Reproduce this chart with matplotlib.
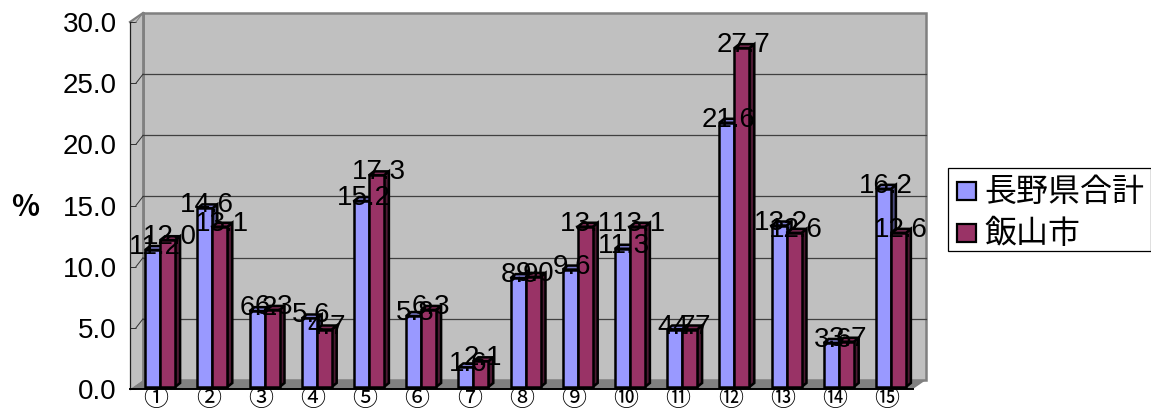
import numpy as np
import matplotlib
matplotlib.use('Agg')
import matplotlib.pyplot as plt
from matplotlib.patches import Polygon, Rectangle

# data
categories = ['①', '②', '③', '④', '⑤', '⑥', '⑦', '⑧', '⑨', '⑩', '⑪', '⑫', '⑬', '⑭', '⑮']
nagano = [11.2, 14.6, 6.2, 5.6, 15.2, 5.8, 1.6, 8.9, 9.6, 11.3, 4.7, 21.6, 13.2, 3.6, 16.2]
iiyama = [12.0, 13.1, 6.3, 4.7, 17.3, 6.3, 2.1, 9.0, 13.1, 13.1, 4.7, 27.7, 12.6, 3.7, 12.6]
series_names = ['長野県合計', '飯山市']
y_ticks = [0, 5, 10, 15, 20, 25, 30]

W, H = 1151, 411
LATIN = 'Liberation Sans'
CJK = 'Noto Sans CJK JP'

fig = plt.figure(figsize=(W / 100, H / 100), dpi=100)
ax = fig.add_axes([130 / W, (H - 389) / H, 783 / W, 367 / H])
ax.set_xlim(0.5, 15.5)
ax.set_ylim(0, 30)
ax.patch.set_visible(False)

# pixels to data units, for the fake 3d depth
px_x = 15 / 783
px_y = 30 / 367
wall_dx, wall_dy = 13 * px_x, 9 * px_y
bar_dx, bar_dy = 4 * px_x, 2 * px_y
side_dx, side_dy = 5 * px_x, 4 * px_y
bar_w = 15 * px_x

# walls and floor
x0, x1 = 0.5, 15.5
ax.add_patch(Polygon([(x0 + wall_dx, wall_dy), (x1 + wall_dx, wall_dy), (x1 + wall_dx, 30 + wall_dy), (x0 + wall_dx, 30 + wall_dy)],
                     fc='#C0C0C0', ec='#808080', lw=1.8, clip_on=False, zorder=1))
ax.add_patch(Polygon([(x0, 0), (x0, 30), (x0 + wall_dx, 30 + wall_dy), (x0 + wall_dx, wall_dy)],
                     fc='#C0C0C0', ec='none', clip_on=False, zorder=1))
ax.plot([x0 + wall_dx, x0 + wall_dx], [wall_dy, 30 + wall_dy], color='#808080', lw=2, clip_on=False, zorder=1.5)
ax.plot([x0, x0 + wall_dx], [30, 30 + wall_dy], color='#808080', lw=1.6, clip_on=False, zorder=1.5)
ax.add_patch(Polygon([(x0, 0), (x1, 0), (x1 + wall_dx, wall_dy), (x0 + wall_dx, wall_dy)],
                     fc='#808080', ec='none', clip_on=False, zorder=2))

# gridlines, on the back wall and slanted on the left wall
for v in y_ticks[1:-1]:
    ax.plot([x0 + wall_dx, x1 + wall_dx], [v + wall_dy, v + wall_dy], color='#404040', lw=0.9, clip_on=False, zorder=2)
for v in y_ticks[1:-1]:
    ax.plot([x0 + 6 * px_x, x0 + wall_dx], [v, v + wall_dy], color='#303030', lw=0.7, clip_on=False, zorder=2)
ax.plot([x0 + 6 * px_x, x0 + wall_dx], [30, 30 + wall_dy], color='#808080', lw=0.7, clip_on=False, zorder=2)

# bars
x = np.arange(1, 16)
styles = [('#9999FF', '#7A7ACC', '#4D4D80'), ('#993366', '#7A2952', '#4D1A33')]
for i, vals in enumerate([nagano, iiyama]):
    front, top, side = styles[i]
    left = x - bar_w + i * bar_w + bar_dx
    for l, v in zip(left, vals):
        r = l + bar_w
        ax.add_patch(Polygon([(r, bar_dy), (r + side_dx, bar_dy + side_dy), (r + side_dx, v + bar_dy + side_dy), (r, v + bar_dy)],
                             fc=side, ec='black', lw=1.8, clip_on=False, zorder=3 + i))
        ax.add_patch(Polygon([(l, v + bar_dy), (r, v + bar_dy), (r + side_dx, v + bar_dy + side_dy), (l + side_dx, v + bar_dy + side_dy)],
                             fc=top, ec='black', lw=1.8, clip_on=False, zorder=3 + i))
    ax.bar(left, vals, bar_w, bottom=bar_dy, align='edge', color=front, edgecolor='black', linewidth=1.8, clip_on=False, zorder=3 + i)

# value labels sit on top of everything
for i, vals in enumerate([nagano, iiyama]):
    for c, v in zip(x, vals):
        ax.text(c - bar_w / 2 + i * bar_w + 6 * px_x, v + 5 * px_y, f'{v:.1f}', ha='center', va='center',
                family=LATIN, fontsize=20, color='black', clip_on=False, zorder=6)

# axes
for s in ['top', 'right']:
    ax.spines[s].set_visible(False)
ax.spines['left'].set_linewidth(0.9)
ax.spines['left'].set_color('#202020')
ax.spines['bottom'].set_linewidth(1.4)
ax.spines['bottom'].set_zorder(5)
ax.set_yticks(y_ticks)
ax.set_yticklabels([f'{v:.1f}' for v in y_ticks], family=LATIN, fontsize=20)
ax.tick_params(axis='y', direction='in', length=4.5, width=0.7, pad=9.5, color='#303030')
ax.set_xticks(np.arange(0.5, 16, 1))
ax.set_xticklabels([])
ax.set_xticks(x, minor=True)
ax.set_xticklabels(categories, minor=True, family=CJK, fontsize=18)
ax.tick_params(axis='x', which='major', direction='in', length=4, width=0.7, zorder=5)
ax.tick_params(axis='x', which='minor', length=0, pad=-2.5)

fig.text(25 / W, 1 - 207 / H, '%', ha='center', va='center', family=CJK, fontsize=21, fontweight='bold')


def fig_rect(px0, py0, px1, py1, **kw):
    fig.add_artist(Rectangle((px0 / W, 1 - py1 / H), (px1 - px0) / W, (py1 - py0) / H,
                             transform=fig.transFigure, **kw))


# legend, placed by hand to sit against the right edge
fig_rect(947.5, 168.5, 1150.5, 251.5, fc='white', ec='black', lw=0.9)
for name, color, cy in zip(series_names, [styles[0][0], styles[1][0]], [191, 233]):
    fig_rect(957, cy - 9, 976, cy + 9, fc=color, ec='black', lw=1.6)
    fig.text(984 / W, 1 - (cy + 1) / H, name, ha='left', va='center', family=CJK, fontsize=23)

fig.savefig('out.png', dpi=100)
